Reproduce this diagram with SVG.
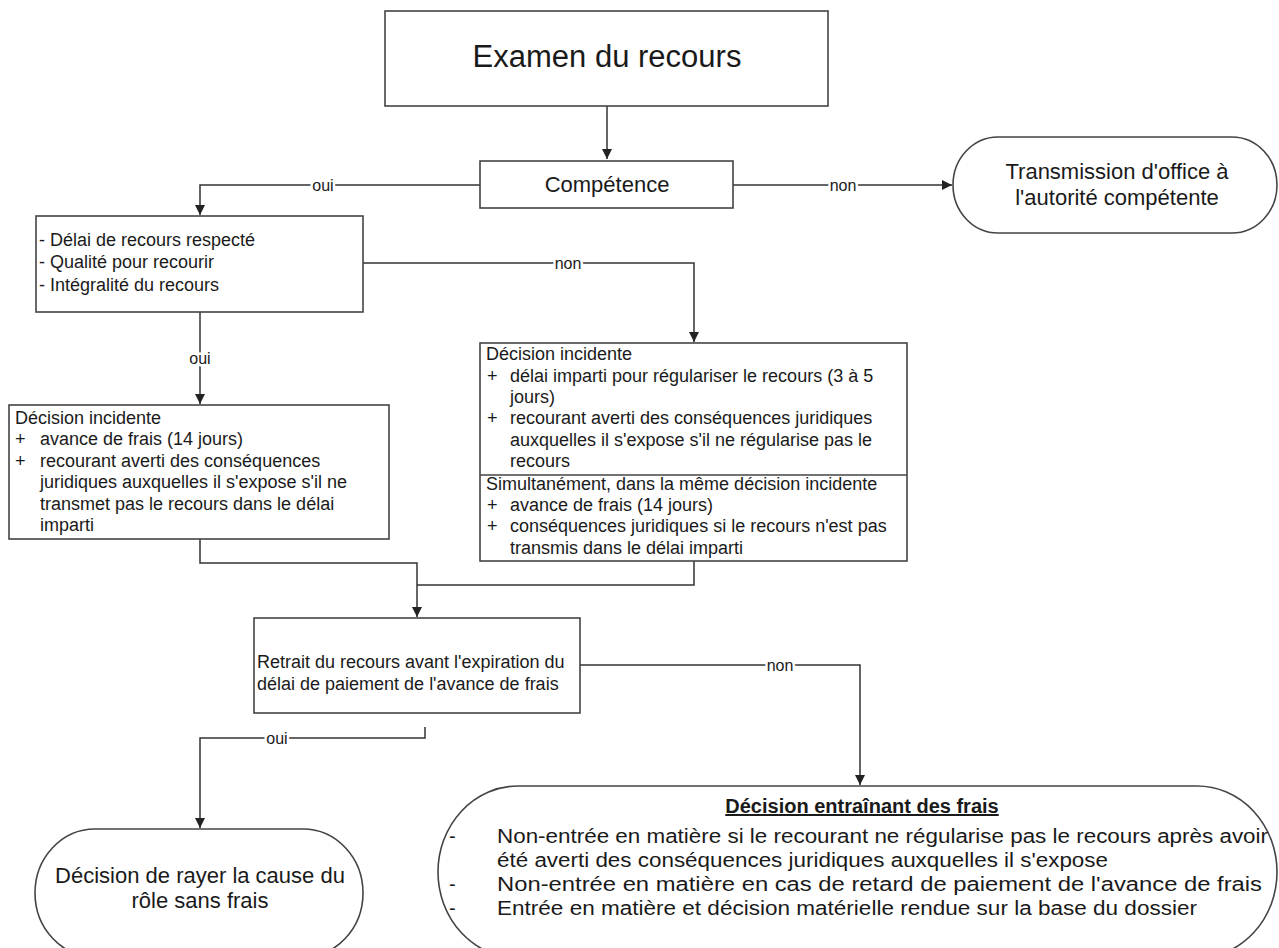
<svg xmlns="http://www.w3.org/2000/svg" width="1279" height="948" viewBox="0 0 1279 948">
<style>
.box{fill:#fff;stroke:#444;stroke-width:1.6}
.ln{fill:none;stroke:#333;stroke-width:1.5}
text{font-family:"Liberation Sans",Arial,sans-serif;fill:#1a1a1a}
.t17{font-size:18px}
.lbl{font-size:16px;text-anchor:middle;paint-order:stroke;stroke:#fff;stroke-width:5px}
.mid{text-anchor:middle}
</style>
<defs>
<marker id="ah" markerWidth="12" markerHeight="12" refX="10" refY="5" orient="auto" markerUnits="userSpaceOnUse">
<path d="M0,0 L10,5 L0,10 Z" fill="#222"/>
</marker>
</defs>
<rect width="1279" height="948" fill="#fff"/>

<g id="connectors">
<path class="ln" d="M607,106 V159" marker-end="url(#ah)"/>
<path class="ln" d="M733,185 H952" marker-end="url(#ah)"/>
<path class="ln" d="M480,185 H200 V215" marker-end="url(#ah)"/>
<path class="ln" d="M363,263 H694 V342" marker-end="url(#ah)"/>
<path class="ln" d="M200,312 V404" marker-end="url(#ah)"/>
<path class="ln" d="M200,539 V563 H417 V617" marker-end="url(#ah)"/>
<path class="ln" d="M694,561 V585 H417"/>
<path class="ln" d="M580,665 H860 V785" marker-end="url(#ah)"/>
<path class="ln" d="M425,727 V738 H200 V828" marker-end="url(#ah)"/>
<text class="lbl" x="843" y="191">non</text>
<text class="lbl" x="323" y="191">oui</text>
<text class="lbl" x="568" y="269">non</text>
<text class="lbl" x="200" y="364">oui</text>
<text class="lbl" x="780" y="671">non</text>
<text class="lbl" x="277" y="744">oui</text>
</g>

<g id="examen">
<rect class="box" x="385" y="11" width="443" height="95"/>
<text class="mid" x="607" y="67" font-size="31">Examen du recours</text>
</g>

<g id="competence">
<rect class="box" x="480" y="161" width="253" height="47"/>
<text class="mid" x="607" y="192" font-size="22">Compétence</text>
</g>

<g id="transmission">
<rect class="box" x="953" y="137" width="324" height="96" rx="45" ry="48"/>
<text class="mid" x="1117" y="179" font-size="22">Transmission d'office à</text>
<text class="mid" x="1117" y="205" font-size="22">l'autorité compétente</text>
</g>

<g id="conditions">
<rect class="box" x="36" y="216" width="327" height="96"/>
<text class="t17" x="39" y="246">- Délai de recours respecté</text>
<text class="t17" x="39" y="268">- Qualité pour recourir</text>
<text class="t17" x="39" y="291">- Intégralité du recours</text>
</g>

<g id="decision-avance">
<rect class="box" x="9" y="405" width="380" height="134"/>
<text class="t17" x="15" y="424">Décision incidente</text>
<text class="t17" x="15" y="445">+</text>
<text class="t17" x="40" y="445">avance de frais (14 jours)</text>
<text class="t17" x="15" y="467">+</text>
<text class="t17" x="40" y="467">recourant averti des conséquences</text>
<text class="t17" x="40" y="488">juridiques auxquelles il s'expose s'il ne</text>
<text class="t17" x="40" y="510">transmet pas le recours dans le délai</text>
<text class="t17" x="40" y="531">imparti</text>
</g>

<g id="decision-regulariser">
<rect class="box" x="480" y="343" width="427" height="218"/>
<line class="box" x1="480" y1="475" x2="907" y2="475"/>
<text class="t17" x="486" y="360">Décision incidente</text>
<text class="t17" x="487" y="382">+</text>
<text class="t17" x="510" y="382">délai imparti pour régulariser le recours (3 à 5</text>
<text class="t17" x="510" y="403">jours)</text>
<text class="t17" x="487" y="424">+</text>
<text class="t17" x="510" y="424">recourant averti des conséquences juridiques</text>
<text class="t17" x="510" y="446">auxquelles il s'expose s'il ne régularise pas le</text>
<text class="t17" x="510" y="467">recours</text>
<text class="t17" x="486" y="490">Simultanément, dans la même décision incidente</text>
<text class="t17" x="487" y="511">+</text>
<text class="t17" x="510" y="511">avance de frais (14 jours)</text>
<text class="t17" x="487" y="532">+</text>
<text class="t17" x="510" y="532">conséquences juridiques si le recours n'est pas</text>
<text class="t17" x="510" y="554">transmis dans le délai imparti</text>
</g>

<g id="retrait">
<rect class="box" x="254" y="618" width="326" height="95"/>
<text class="t17" x="257" y="668">Retrait du recours avant l'expiration du</text>
<text class="t17" x="257" y="690">délai de paiement de l'avance de frais</text>
</g>

<g id="rayer">
<rect class="box" x="35" y="829" width="328" height="128" rx="60" ry="64"/>
<text class="mid" x="200" y="883" font-size="22">Décision de rayer la cause du</text>
<text class="mid" x="200" y="908" font-size="22">rôle sans frais</text>
</g>

<g id="frais">
<rect class="box" x="438" y="786" width="839" height="172" rx="80" ry="86"/>
<text class="mid" x="862" y="813" font-size="20" font-weight="bold" text-decoration="underline">Décision entraînant des frais</text>
<text x="449" y="843" font-size="20">-</text>
<text x="497" y="843" font-size="20" textLength="771" lengthAdjust="spacingAndGlyphs">Non-entrée en matière si le recourant ne régularise pas le recours après avoir</text>
<text x="497" y="867" font-size="20" textLength="611" lengthAdjust="spacingAndGlyphs">été averti des conséquences juridiques auxquelles il s'expose</text>
<text x="449" y="891" font-size="20">-</text>
<text x="497" y="891" font-size="20" textLength="765" lengthAdjust="spacingAndGlyphs">Non-entrée en matière en cas de retard de paiement de l'avance de frais</text>
<text x="449" y="915" font-size="20">-</text>
<text x="497" y="915" font-size="20" textLength="700" lengthAdjust="spacingAndGlyphs">Entrée en matière et décision matérielle rendue sur la base du dossier</text>
</g>
</svg>
